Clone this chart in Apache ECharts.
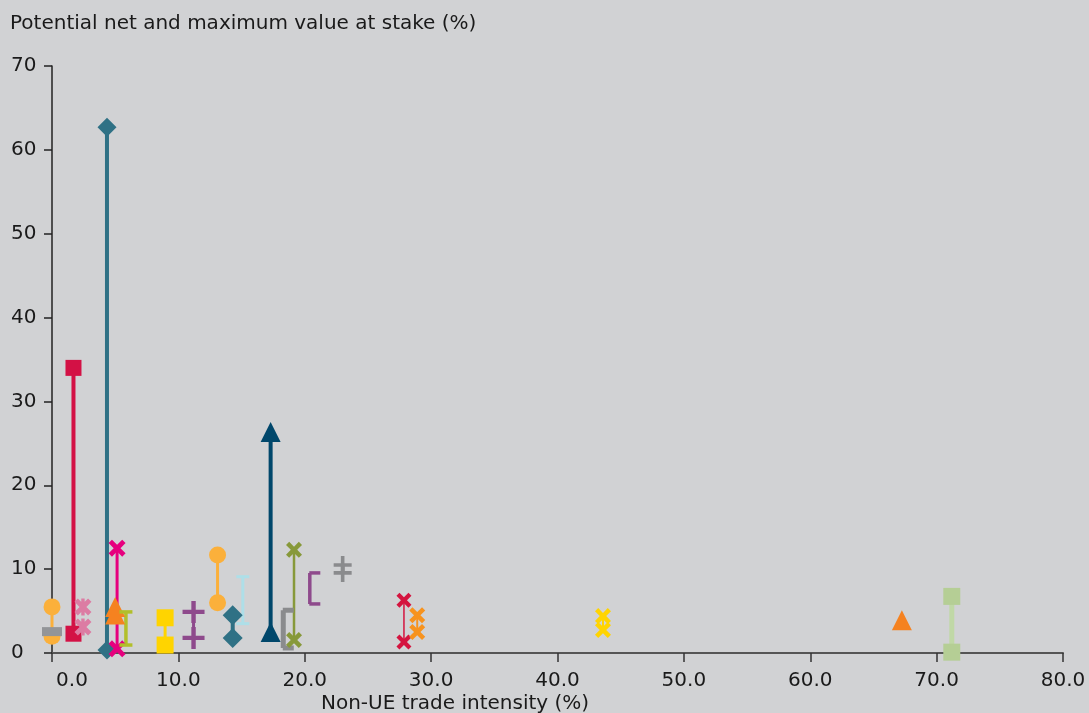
<!DOCTYPE html>
<html>
<head>
<meta charset="utf-8">
<script src="https://cdn.jsdelivr.net/npm/echarts@6/dist/echarts.min.js"></script>
<style>
html,body{margin:0;padding:0;background:#d1d2d4;}
#c{width:1089px;height:713px;}
</style>
</head>
<body>
<div id="c"></div>
<script>
// ---- data ----
const xTicks = [0, 10, 20, 30, 40, 50, 60, 70, 80];
const yTicks = [0, 10, 20, 30, 40, 50, 60, 70];
const tradeIntensity = [0, 0, 1.7, 2.45, 4.35, 5.0, 5.15, 5.85, 8.95, 11.2, 13.1, 14.3, 15.1, 17.3, 18.3, 19.15, 20.4, 23.0, 27.85, 28.9, 43.6, 67.25, 71.2];
const maxAtStake = [5.5, 2.55, 34.0, 5.5, 62.7, 5.5, 12.5, 4.9, 4.2, 4.9, 11.7, 4.5, 9.1, 26.35, 5.1, 12.3, 9.55, 10.5, 6.3, 4.5, 4.4, 3.9, 6.75];
const netAtStake = [2.0, null, 2.3, 3.1, 0.35, 4.6, 0.5, 0.95, 0.95, 1.8, 6.0, 1.8, 3.5, 2.5, 0.6, 1.55, 5.85, 9.55, 1.3, 2.5, 2.75, null, 0.1];

// ---- styles ----
const X = 'path://M0,2L2,0L5,3L8,0L10,2L7,5L10,8L8,10L5,7L2,10L0,8L3,5Z';
const AST = 'path://M0,2L2,0L5,3L8,0L10,2L7,5L10,8L8,10L5,7L2,10L0,8L3,5Z M4,0L6,0L6,10L4,10Z';
const PLUS = 'path://M4,0H6V4H10V6H6V10H4V6H0V4H4Z';
const styles = [
  {s:'circle', sz:17, c:'#fbb03b', lw:3},
  {s:'rect', sz:[20,9], c:'#939598', lw:0},
  {s:'rect', sz:16, c:'#d31145', lw:4},
  {s:AST, sz:17, c:'#dc7ca3', lw:0},
  {s:'diamond', sz:19, c:'#2f7185', lw:4},
  {s:'triangle', sz:20, c:'#f58220', lw:0},
  {s:X, sz:17, c:'#e6007e', lw:3},
  {s:'rect', sz:[13,3.5], c:'#b2bf2a', lw:3.5},
  {s:'rect', sz:17, c:'#ffd400', lw:3},
  {s:PLUS, sz:22, c:'#8e4a8c', lw:3},
  {s:'circle', sz:17, c:'#fbb03b', lw:3},
  {s:'diamond', sz:20, c:'#2f7185', lw:4},
  {s:'rect', sz:[13,3], c:'#aedfe8', lw:3},
  {s:'triangle', sz:20, c:'#00476b', lw:4},
  {s:'rect', sz:[11,5], c:'#8a8b8d', lw:5, off:[5,0]},
  {s:X, sz:16, c:'#87993a', lw:2.5},
  {s:'rect', sz:[11,3.5], c:'#8e4a8c', lw:3.5, off:[5,0]},
  {s:PLUS, sz:18, c:'#8a8b8d', lw:3.5},
  {s:X, sz:15, c:'#d4143f', lw:1.5},
  {s:X, sz:16, c:'#f7931e', lw:2},
  {s:X, sz:16, c:'#ffd400', lw:2},
  {s:'triangle', sz:20, c:'#f58220', lw:0},
  {s:'rect', sz:17, c:'#b5ce95', lw:5, lc:'#c0d8a6'}
];

const FONT = 'DejaVu Sans';
const series = tradeIntensity.map((x, i) => {
  const st = styles[i];
  const data = [[x, maxAtStake[i]]];
  if (netAtStake[i] !== null) data.push([x, netAtStake[i]]);
  return {
    type: 'line',
    data: data,
    symbol: st.s,
    symbolSize: st.sz,
    symbolOffset: st.off || [0, 0],
    showSymbol: true,
    itemStyle: {color: st.c},
    lineStyle: {color: st.lc || st.c, width: st.lw, opacity: st.lw ? 1 : 0},
    emphasis: {disabled: true},
    z: 3
  };
});

const chart = echarts.init(document.getElementById('c'), null, {renderer: 'canvas'});
chart.setOption({
  backgroundColor: '#d1d2d4',
  animation: false,
  textStyle: {fontFamily: FONT},
  title: [
    {text: 'Potential net and maximum value at stake (%)', left: 10, top: 14, padding: 0,
     textStyle: {fontFamily: FONT, fontSize: 20, fontWeight: 'normal', color: '#1a1a1a'}},
    {text: 'Non-UE trade intensity (%)', left: 321, top: 694, padding: 0,
     textStyle: {fontFamily: FONT, fontSize: 20, fontWeight: 'normal', color: '#1a1a1a'}}
  ],
  grid: {left: 52, right: 26, top: 66, bottom: 60, containLabel: false},
  xAxis: {
    type: 'value', min: xTicks[0], max: xTicks[xTicks.length - 1], interval: 10,
    axisLine: {show: true, onZero: false, lineStyle: {color: '#555', width: 2}},
    axisTick: {show: true, length: 9, lineStyle: {color: '#333', width: 1.5}},
    splitLine: {show: false},
    axisLabel: {
      margin: 18, color: '#1a1a1a', fontFamily: FONT, fontSize: 20,
      formatter: v => v === 0 ? '{f|' + v.toFixed(1) + '}' : v.toFixed(1),
      rich: {f: {padding: [0, 0, 0, 40], fontFamily: FONT, fontSize: 20, color: '#1a1a1a'}}
    }
  },
  yAxis: {
    type: 'value', min: yTicks[0], max: yTicks[yTicks.length - 1], interval: 10,
    axisLine: {show: true, onZero: false, lineStyle: {color: '#222', width: 1.5}},
    axisTick: {show: true, length: 8, lineStyle: {color: '#222', width: 1.5}},
    splitLine: {show: false},
    axisLabel: {margin: 41, align: 'left', color: '#1a1a1a', fontFamily: FONT, fontSize: 20}
  },
  series: series
});
</script>
</body>
</html>
